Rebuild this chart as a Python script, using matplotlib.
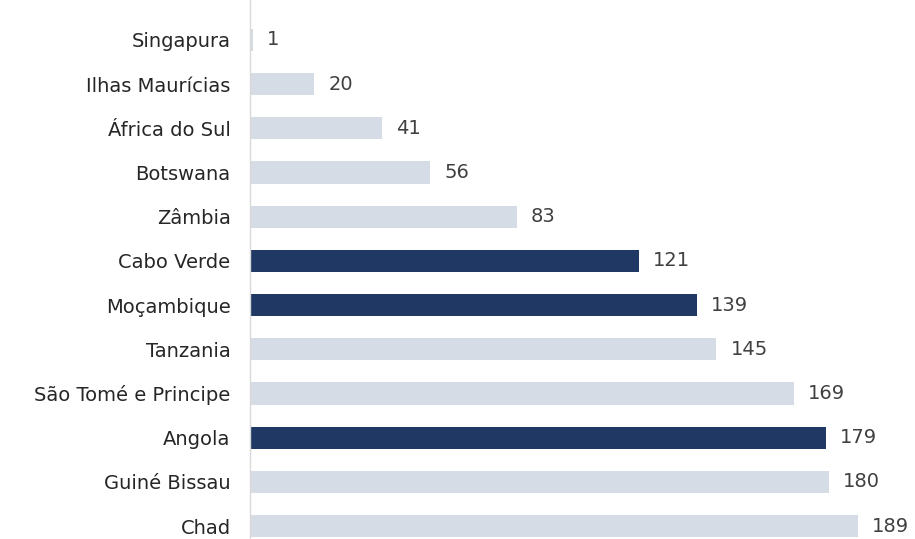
import matplotlib.pyplot as plt

plt.rcParams["font.family"] = ["DejaVu Sans"]

countries = ["Singapura", "Ilhas Maurícias", "África do Sul", "Botswana", "Zâmbia",
             "Cabo Verde", "Moçambique", "Tanzania", "São Tomé e Principe",
             "Angola", "Guiné Bissau", "Chad"]
ranks = [1, 20, 41, 56, 83, 121, 139, 145, 169, 179, 180, 189]
highlight = ["Cabo Verde", "Moçambique", "Angola"]

light = "#d6dce5"
dark = "#203864"
colors = [dark if c in highlight else light for c in countries]

fig = plt.figure(figsize=(9.15, 5.39), dpi=100)
ax = fig.add_axes([250 / 915, 0, 665 / 915, 1])

pos = list(range(len(countries)))
bars = ax.barh(pos, ranks, height=0.5, color=colors)

for b, v in zip(bars, ranks):
    ax.annotate(str(v), (b.get_width(), b.get_y() + b.get_height() / 2),
                xytext=(10, 0), textcoords="offset points",
                va="center", ha="left", fontsize=14, color="#404040")

ax.set_yticks(pos)
ax.set_yticklabels(countries, fontsize=14, color="#262626")
ax.tick_params(axis="y", length=0, pad=14)
ax.set_xticks([])
ax.set_xlim(0, 206.7)
ax.set_ylim(11.294, -0.905)

for s in ["top", "right", "bottom"]:
    ax.spines[s].set_visible(False)
ax.spines["left"].set_color("#d9d9d9")
ax.spines["left"].set_linewidth(1)

fig.savefig("out.png", dpi=100)
